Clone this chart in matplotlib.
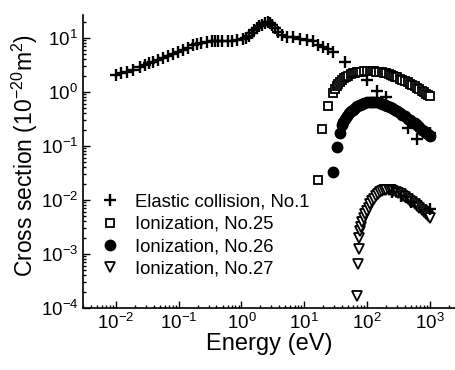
import matplotlib
matplotlib.use("Agg")
import matplotlib.pyplot as plt

plt.rcParams['font.family'] = ['Liberation Sans', 'DejaVu Sans']
plt.rcParams['mathtext.fontset'] = 'custom'
plt.rcParams['mathtext.rm'] = 'Liberation Sans'
plt.rcParams['mathtext.it'] = 'Liberation Sans'
plt.rcParams['mathtext.default'] = 'regular'

# elastic collision, No.1
elastic_e = [0.01, 0.012, 0.015, 0.0186, 0.024, 0.029, 0.034, 0.039, 0.047, 0.056,
             0.067, 0.08, 0.098, 0.117, 0.14, 0.17, 0.195, 0.23, 0.28, 0.34,
             0.38, 0.43, 0.49, 0.6, 0.71, 0.85, 1.05, 1.2, 1.33, 1.47,
             1.6, 1.76, 1.9, 2.1, 2.35, 2.6, 2.8, 3.05, 3.4, 3.8,
             4.4, 5.3, 6.6, 8.5, 11, 13.7, 16.5, 19.8, 23.8, 28.5,
             44, 100, 143, 200, 450, 620, 1000,
             250, 350, 500, 1000]
elastic_s = [2.07, 2.2, 2.35, 2.57, 2.9, 3.2, 3.4, 3.6, 3.9, 4.2,
             4.6, 5.0, 5.5, 6.0, 6.5, 7.4, 7.7, 8.0, 8.4, 8.8,
             8.7, 8.9, 8.9, 8.9, 8.9, 9.2, 9.5, 10, 11, 12.4,
             13.8, 15.3, 16.5, 17.4, 19, 19.8, 19, 17.4, 15.3, 12.9,
             11.4, 10.5, 10.3, 9.5, 9.2, 8.8, 7.4, 6.7, 6.2, 5.5,
             3.6, 1.67, 1.04, 0.81, 0.21, 0.135, 0.17,
             0.014, 0.012, 0.009, 0.0068]

# ionization, No.25
ion25_e = [16.5, 19, 23.8, 28.5, 31, 33, 35, 37, 40, 43, 46, 50, 55, 60,
           65, 70, 75, 80, 90, 100, 110, 120, 130, 140,
           155, 170, 185, 200, 220, 240, 260, 280, 300, 330,
           360, 400, 440, 480, 520, 570, 620, 680, 740, 800,
           870, 940, 1000]
ion25_s = [0.0234, 0.206, 0.55, 0.96, 1.15, 1.29, 1.42, 1.53, 1.68, 1.8, 1.9, 2.0, 2.1, 2.2,
           2.25, 2.3, 2.33, 2.36, 2.4, 2.4, 2.4, 2.4, 2.38, 2.36,
           2.33, 2.3, 2.25, 2.2, 2.12, 2.05, 2.0, 1.92, 1.85, 1.75,
           1.67, 1.58, 1.5, 1.42, 1.35, 1.27, 1.2, 1.12, 1.05, 1.0,
           0.93, 0.87, 0.82]

# ionization, No.26
ion26_e = [28.5, 33, 37, 40, 42, 45, 48, 52, 56, 60, 65, 70, 76, 82, 90, 100,
           110, 120, 130, 145, 160, 175, 190, 210, 230, 250, 275, 300, 330, 360,
           400, 440, 480, 520, 570, 620, 680, 740, 800, 870, 940, 1000]
ion26_s = [0.033, 0.095, 0.17, 0.245, 0.28, 0.32, 0.36, 0.4, 0.44, 0.47, 0.51, 0.54, 0.57, 0.6, 0.62, 0.64,
           0.65, 0.65, 0.65, 0.64, 0.62, 0.6, 0.58, 0.55, 0.52, 0.5, 0.47, 0.44, 0.41, 0.38,
           0.35, 0.32, 0.3, 0.28, 0.26, 0.24, 0.22, 0.2, 0.19, 0.175, 0.165, 0.155]

# ionization, No.27
ion27_e = [70, 71, 73, 75, 77, 80, 84, 88, 93, 100,
           106, 112, 120, 128, 137, 147, 158, 170, 185, 200,
           220, 240, 260, 285, 310, 340, 370, 400, 440, 480,
           520, 570, 620, 680, 740, 800, 870, 940, 1000]
ion27_s = [1.67e-4, 6.5e-4, 1.25e-3, 2.0e-3, 2.6e-3, 3.2e-3, 3.9e-3, 4.6e-3, 5.4e-3, 6.3e-3,
           7.2e-3, 8.2e-3, 9.4e-3, 0.0105, 0.0118, 0.013, 0.014, 0.0148, 0.0153, 0.0155,
           0.0153, 0.015, 0.0145, 0.014, 0.0133, 0.0126, 0.0119, 0.0112, 0.0104, 0.0097,
           0.009, 0.0083, 0.0077, 0.007, 0.0064, 0.0059, 0.0054, 0.005, 0.0047]

fig = plt.figure(figsize=(4.56, 3.70), dpi=100)
ax = fig.add_axes([0.182, 0.168, 0.818, 0.792])

ax.plot(ion25_e, ion25_s, 's', ms=6, mfc='white', mec='black', mew=1.3, ls='none', label='Ionization, No.25')
ax.plot(ion26_e, ion26_s, 'o', ms=7.5, color='black', ls='none', label='Ionization, No.26')
ax.plot(ion27_e, ion27_s, 'v', ms=7.5, mfc='white', mec='black', mew=1.3, ls='none', label='Ionization, No.27')
ax.plot(elastic_e, elastic_s, '+', ms=9, color='black', mew=1.7, ls='none', label='Elastic collision, No.1')

ax.set_xscale('log')
ax.set_yscale('log')
ax.set_xlim(3.0e-3, 2.6e3)
ax.set_ylim(1e-4, 26.7)

for s in ['top', 'right']:
    ax.spines[s].set_visible(False)
ax.spines['left'].set_linewidth(1.2)
ax.spines['bottom'].set_linewidth(1.2)
ax.tick_params(which='both', direction='in', labelsize=13.5, width=1)
ax.tick_params(which='major', length=5)
ax.tick_params(which='minor', length=2.5)

ax.set_xlabel('Energy (eV)', fontsize=17, labelpad=0)
ax.set_ylabel('Cross section (10$^{-20}$m$^2$)', fontsize=16.5)
ax.yaxis.set_label_coords(-0.115, 0.52)

h, l = ax.get_legend_handles_labels()
order = [3, 0, 1, 2]
ax.legend([h[i] for i in order], [l[i] for i in order], loc='lower left',
          bbox_to_anchor=(0.0, 0.06), frameon=False, fontsize=13.3,
          handletextpad=0.6, labelspacing=0.28, handlelength=1.5, borderaxespad=0.3)

fig.savefig('out.png', dpi=100)
